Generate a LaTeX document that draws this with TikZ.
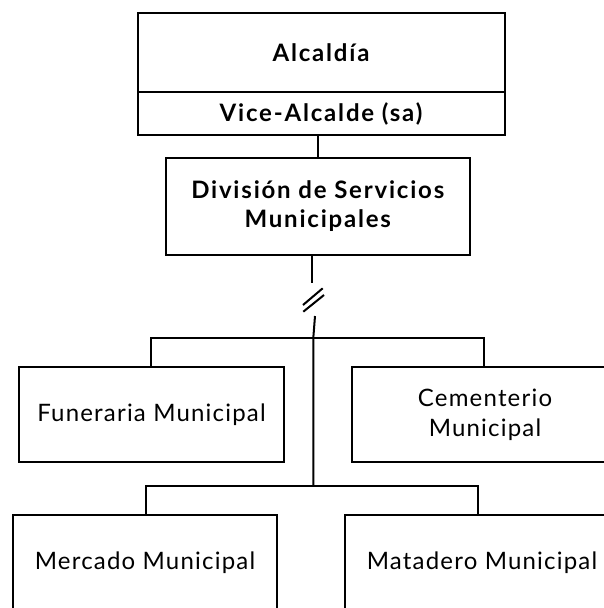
\documentclass[tikz,border=0pt]{standalone}
\usepackage{fontspec}
\setmainfont{Lato}[LetterSpace=5]
\newfontfamily\boldlato{Lato}[LetterSpace=7.5]
\begin{document}
\begin{tikzpicture}[x=1pt,y=-1pt, line width=2pt,
  box/.style={draw, line width=2pt, inner sep=0pt, align=center, font=\fontsize{24}{30}\selectfont},
  bbox/.style={box, font=\boldlato\fontsize{24}{29}\selectfont\bfseries},
  conn/.style={line width=2pt}]
\clip (0,0) rectangle (604,608);
\node[bbox, minimum width=367pt, minimum height=79.6pt] (alc) at (321,52.5) {Alcaldía};
\node[bbox, minimum width=367pt, minimum height=42.7pt] (vice) at (321,113.65) {Vice-Alcalde (sa)};
\node[bbox, minimum width=304.4pt, minimum height=97pt] (div) at (317.8,206.5) {División de Servicios\\Municipales};
\node[box, minimum width=265pt, minimum height=95pt] (fun) at (151.5,414.5) {Funeraria Municipal};
\node[box, minimum width=266pt, minimum height=95pt] (cem) at (485,414.5) {Cementerio\\Municipal};
\node[box, minimum width=264pt, minimum height=95pt] (mer) at (145,562.5) {Mercado Municipal};
\node[box, minimum width=274pt, minimum height=95pt] (mat) at (482,562.5) {Matadero Municipal};
\draw[conn] (vice.south -| div.north) -- (div.north);
\coordinate (t1) at (311.5,282.5);
\draw[conn] (div.south -| t1) -- (t1);
\coordinate (s1a) at (303,305); \coordinate (s1b) at (322.7,288.3);
\coordinate (s2a) at (303.3,311.7); \coordinate (s2b) at (324,295);
\draw[conn] (s1a) -- (s1b);
\draw[conn] (s2a) -- (s2b);
\coordinate (t2) at (315,316);
\coordinate (t3) at (313.3,338);
\coordinate (t4) at (313.3,486);
\draw[conn] (t2) -- (t3) -- (t4);
\coordinate (b1l) at (151,338); \coordinate (b1r) at (484,338);
\draw[conn] (fun.north -| b1l) -- (b1l) -- (b1r) -- (cem.north -| b1r);
\coordinate (b2l) at (145.6,486); \coordinate (b2r) at (477.6,486);
\draw[conn] (mer.north -| b2l) -- (b2l) -- (b2r) -- (mat.north -| b2r);
\end{tikzpicture}
\end{document}
